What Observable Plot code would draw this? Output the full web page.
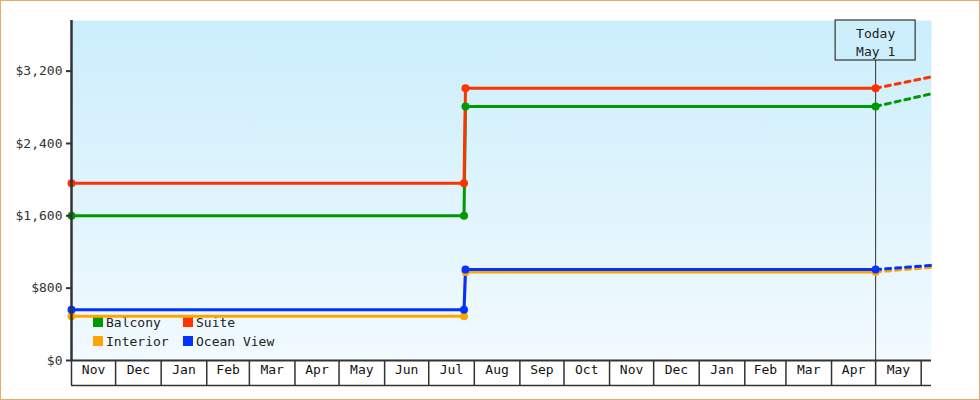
<!DOCTYPE html>
<html>
<head>
<meta charset="utf-8">
<script src="https://cdn.jsdelivr.net/npm/d3@7"></script>
<script src="https://cdn.jsdelivr.net/npm/@observablehq/plot@0.6"></script>
<style>
  html, body { margin: 0; padding: 0; background: #fff; }
  #chart svg { display: block; outline: 1px solid #e8aa66; outline-offset: -1px; }
</style>
</head>
<body>
<div id="chart"></div>
<script>
// ---- data ----
const series = ["Balcony", "Suite", "Interior", "Ocean View"];
const seriesColors = ["#009900", "#ff3300", "#ffa500", "#0033ff"];

const priceDates = ["2023-11-01", "2024-07-25", "2024-07-26", "2025-05-01"];
const balcony   = [1600, 1600, 2810, 2810];
const suite     = [1960, 1960, 3010, 3010];
const interior  = [490, 490, 980, 980];
const oceanView = [560, 560, 1005, 1005];

const projDates = ["2025-05-01", "2025-06-08"];
const balconyProj   = [2810, 2950];
const suiteProj     = [3010, 3137];
const interiorProj  = [980, 1030];
const oceanViewProj = [1005, 1052];

const monthLabels = ["Nov","Dec","Jan","Feb","Mar","Apr","May","Jun","Jul","Aug","Sep","Oct","Nov","Dec","Jan","Feb","Mar","Apr","May"];
const firstMonth = "2023-11-01";
const yTicks = [0, 800, 1600, 2400, 3200];
const todayDate = "2025-05-01";
const todayLabel = "Today\nMay 1";
const xDomain = ["2023-11-01", "2025-06-08"];
const yMax = 3760;

// ---- build tables ----
const parse = d3.utcParse("%Y-%m-%d");
const valueSets = [balcony, suite, interior, oceanView];
const projSets = [balconyProj, suiteProj, interiorProj, oceanViewProj];
const rows = [];
series.forEach((s, i) => priceDates.forEach((d, j) => rows.push({series: s, date: parse(d), price: valueSets[i][j]})));
const projRows = [];
series.forEach((s, i) => projDates.forEach((d, j) => projRows.push({series: s, date: parse(d), price: projSets[i][j]})));

const monthStarts = monthLabels.map((_, i) => d3.utcMonth.offset(parse(firstMonth), i));
const monthEndsAll = monthLabels.map((_, i) => d3.utcMonth.offset(parse(firstMonth), i + 1));
const monthMids = monthStarts.map((d, i) => new Date((+d + +monthEndsAll[i]) / 2));
const tickDates = monthStarts.concat([monthEndsAll[monthEndsAll.length - 1]]);
const today = parse(todayDate);

const ns = "http://www.w3.org/2000/svg";
function el(tag, attrs) {
  const e = document.createElementNS(ns, tag);
  for (const k in attrs) e.setAttribute(k, attrs[k]);
  return e;
}

function gradientDefs() {
  const defs = el("defs", {});
  const g = el("linearGradient", {id: "bgGrad", x1: 0, y1: 0, x2: 0, y2: 1});
  g.appendChild(el("stop", {offset: "0%", "stop-color": "#cbeefc"}));
  g.appendChild(el("stop", {offset: "100%", "stop-color": "#f2fafe"}));
  defs.appendChild(g);
  return defs;
}

function legend(index, scales, values, dims) {
  const g = el("g", {"font-family": "DejaVu Sans Mono", "font-size": 13, "text-anchor": "start"});
  const left = dims.marginLeft;
  const bottom = dims.height - dims.marginBottom;
  const cols = [22, 112];
  const rowsY = [-43, -24];
  series.forEach((s, i) => {
    const cx = left + cols[i % 2];
    const cy = bottom + rowsY[Math.floor(i / 2)];
    g.appendChild(el("rect", {x: cx, y: cy, width: 10, height: 10, fill: seriesColors[i]}));
    const t = el("text", {x: cx + 13, y: cy + 5, dy: "0.35em", fill: "#222", "text-anchor": "start"});
    t.textContent = s;
    g.appendChild(t);
  });
  return g;
}

function todayBox(index, scales, values, dims) {
  const cx = scales.x(today);
  return el("rect", {x: cx - 40, y: dims.marginTop, width: 80, height: 40, fill: "#cdeffc", stroke: "#333", "stroke-width": 1.2});
}

const color = {domain: series, range: seriesColors};

const chart = Plot.plot({
  width: 980,
  height: 400,
  marginLeft: 71,
  marginRight: 49,
  marginTop: 20,
  marginBottom: 40,
  style: {fontFamily: "DejaVu Sans Mono", fontSize: "13px", color: "#333", background: "white"},
  x: {type: "utc", domain: xDomain.map(parse)},
  y: {domain: [0, yMax]},
  color,
  marks: [
    gradientDefs,
    Plot.frame({fill: "url(#bgGrad)", stroke: "none"}),
    legend,
    Plot.ruleX([today], {stroke: "#333", strokeWidth: 1, insetTop: 40}),
    Plot.line(projRows, {x: "date", y: "price", z: "series", stroke: "series", strokeWidth: 3, strokeDasharray: "5,5"}),
    Plot.line(rows, {x: "date", y: "price", z: "series", stroke: "series", strokeWidth: 3}),
    Plot.dot(rows, {x: "date", y: "price", fill: "series", r: 4, stroke: "none"}),
    Plot.axisY({ticks: yTicks, tickFormat: d3.format("$,"), tickSize: 5, tickPadding: 4, strokeWidth: 2, label: null, fill: "#333"}),
    Plot.axisX({ticks: tickDates, tickSize: 25, tickFormat: () => "", strokeWidth: 1.5, label: null}),
    Plot.text(monthLabels, {x: monthMids, frameAnchor: "bottom", dy: 13, fill: "#111"}),
    Plot.ruleY([0], {stroke: "#333", strokeWidth: 2}),
    Plot.ruleY([0], {stroke: "#333", strokeWidth: 1.5, dy: 25}),
    Plot.ruleX([parse(xDomain[0])], {stroke: "#333", strokeWidth: 2.5}),
    todayBox,
    Plot.text([todayLabel], {x: [today], frameAnchor: "top", lineAnchor: "middle", dy: 21, lineHeight: 1.33, fill: "#222"})
  ]
});
document.getElementById("chart").appendChild(chart);
</script>
</body>
</html>
